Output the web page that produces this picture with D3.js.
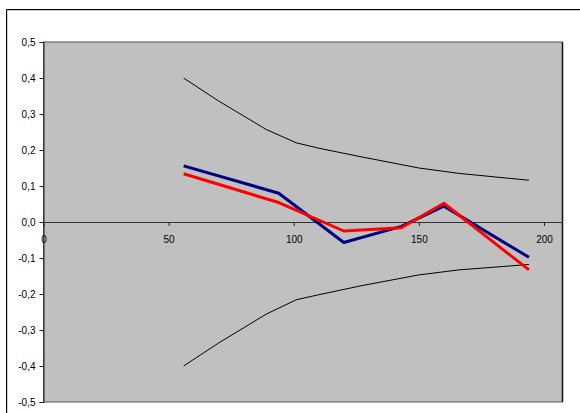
<!DOCTYPE html>
<html><head><meta charset="utf-8">
<script src="https://cdn.jsdelivr.net/npm/d3@7"></script>
<style>body{margin:0;background:#fff;} svg{display:block;}</style>
</head><body>
<svg id="c" width="580" height="413"></svg>
<script>
// Data
const xValues = [56, 94, 120, 143, 160, 194];
const blueValues = [0.156, 0.080, -0.057, -0.012, 0.044, -0.098];
const redValues = [0.134, 0.054, -0.025, -0.016, 0.052, -0.133];
const bandX = [56, 70, 89, 101, 110, 127, 150, 166, 194];
const upperBand = [0.400, 0.336, 0.257, 0.220, 0.205, 0.181, 0.150, 0.135, 0.116];
const lowerBand = [-0.400, -0.336, -0.256, -0.216, -0.202, -0.177, -0.147, -0.133, -0.118];
const xTicks = [0, 50, 100, 150, 200];
const yTicks = [0.5, 0.4, 0.3, 0.2, 0.1, 0, -0.1, -0.2, -0.3, -0.4, -0.5];

const svg = d3.select("#c");
const L = 43.5, R = 562.5, T = 42, B = 402;
const x = d3.scaleLinear().domain([0, 207.4]).range([L, R]);
const y = d3.scaleLinear().domain([-0.5, 0.5]).range([B, T]);

// outer frame
svg.append("path").attr("d", `M6.5,413 V9.5 H580`).attr("fill","none").attr("stroke","#000").attr("stroke-width",1);
svg.append("path").attr("d", `M7.5,413 V10.5 H580`).attr("fill","none").attr("stroke","#cfcfcf").attr("stroke-width",1);

// plot area
svg.append("rect").attr("x", L).attr("y", T).attr("width", R-L).attr("height", B-T)
  .attr("fill","#c0c0c0").attr("stroke","#555").attr("stroke-width",1);
svg.append("line").attr("x1",R).attr("x2",R).attr("y1",T).attr("y2",B).attr("stroke","#111").attr("stroke-width",1.5);

const fmt = d => d3.format(".1f")(d).replace(".", ",").replace("−","-");

// y axis
const yAxis = svg.append("g").attr("transform", `translate(${L},0)`)
  .call(d3.axisLeft(y).tickValues(yTicks).tickSize(4).tickPadding(4).tickFormat(fmt));
yAxis.select(".domain").attr("stroke","#222");
yAxis.selectAll(".tick line").attr("stroke","#222");
yAxis.selectAll("text").attr("font-family","Liberation Sans, Arial, sans-serif").attr("font-size",10).attr("fill","#000");

// x axis at y=0
const xAxis = svg.append("g").attr("transform", `translate(0,${y(0)})`)
  .call(d3.axisBottom(x).tickValues(xTicks).tickSize(4).tickSizeOuter(0).tickPadding(10).tickFormat(d3.format("d")));
xAxis.select(".domain").attr("stroke","#333");
xAxis.selectAll(".tick line").attr("stroke","#222");
xAxis.selectAll("text").attr("font-family","Liberation Sans, Arial, sans-serif").attr("font-size",10).attr("fill","#000");

const line = d3.line().x(d => x(d[0])).y(d => y(d[1]));
svg.append("path").datum(bandX.map((v,i)=>[v, upperBand[i]])).attr("d", line)
  .attr("fill","none").attr("stroke","#000").attr("stroke-width",1);
svg.append("path").datum(bandX.map((v,i)=>[v, lowerBand[i]])).attr("d", line)
  .attr("fill","none").attr("stroke","#000").attr("stroke-width",1);
svg.append("path").datum(xValues.map((v,i)=>[v, blueValues[i]])).attr("d", line)
  .attr("fill","none").attr("stroke","#000080").attr("stroke-width",3).attr("stroke-linejoin","round");
svg.append("path").datum(xValues.map((v,i)=>[v, redValues[i]])).attr("d", line)
  .attr("fill","none").attr("stroke","#ff0000").attr("stroke-width",3).attr("stroke-linejoin","round");
</script>
</body></html>
